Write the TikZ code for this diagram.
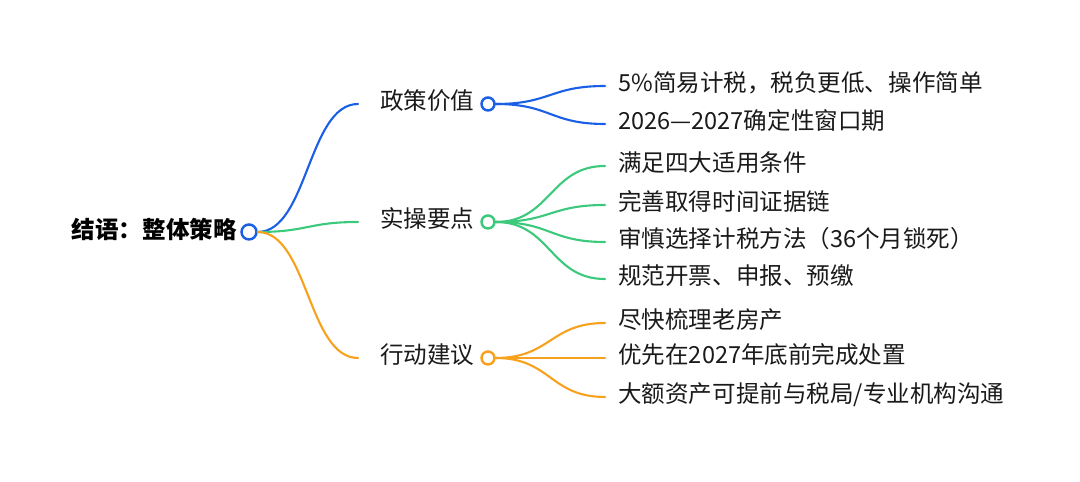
\documentclass[tikz,border=0pt]{standalone}
\usepackage{fontspec}
\setmainfont{Noto Sans CJK SC}
\usepackage{xcolor}
\usepackage{tikz}
\definecolor{mapblue}{HTML}{1A5FE6}
\definecolor{mapgreen}{HTML}{3CC97C}
\definecolor{maporange}{HTML}{F7A21E}
\definecolor{maptext}{HTML}{1A1A1A}

\begin{document}
\begin{tikzpicture}[x=0.02cm, y=-0.02cm,
      every node/.style={font=\fontsize{13.4}{16}\selectfont, text=maptext},
      rootlbl/.style={anchor=east, inner sep=0pt, text height=0.78em, text depth=0.1em,
                      font=\fontsize{13.4}{16}\selectfont\bfseries, text=black},
      lbl/.style={anchor=west, inner xsep=0.44cm, inner ysep=0pt,
                  text height=0.78em, text depth=0.1em},
      leaf/.style={anchor=west, inner xsep=0.26cm, inner ysep=0pt,
                   text height=0.78em, text depth=0.1em},
      rootdot/.style={circle, draw=mapblue, fill=white, line width=1.4pt,
                      minimum size=0.30cm, inner sep=0pt},
      dot/.style={circle, fill=white, line width=1.4pt,
                  minimum size=0.26cm, inner sep=0pt},
      link/.style={line width=1.2pt, line cap=round}
    ]
    \useasboundingbox (0,0) rectangle (1080,482);

    \node[rootlbl] (root) at (237,233) {结语：整体策略};
    \node[rootdot] (rdot) at (249,232) {};

    % main branches
    \node[lbl] (pol) at (358,104) {政策价值};
    \node[lbl] (ops) at (358,222) {实操要点};
    \node[lbl] (act) at (358,358) {行动建议};
    \draw[link, mapblue]   (rdot.east) .. controls +(50,0) and +(-50,0) .. (pol.west);
    \draw[link, mapgreen]  (rdot.east) .. controls +(50,0) and +(-50,0) .. (ops.west);
    \draw[link, maporange] (rdot.east) .. controls +(50,0) and +(-50,0) .. (act.west);
    \node[dot, draw=mapblue]   (pdot) at (488,104) {};
    \node[dot, draw=mapgreen]  (odot) at (488,222) {};
    \node[dot, draw=maporange] (adot) at (488,358) {};

    % policy value
    \node[leaf] (p1) at (605,86)  {5\%简易计税，税负更低、操作简单};
    \node[leaf] (p2) at (605,124) {2026—2027确定性窗口期};
    \draw[link, mapblue] (pdot.east) .. controls +(55,0) and +(-55,0) .. (p1.west);
    \draw[link, mapblue] (pdot.east) .. controls +(55,0) and +(-55,0) .. (p2.west);

    % practical points
    \node[leaf] (o1) at (605,166) {满足四大适用条件};
    \node[leaf] (o2) at (605,205) {完善取得时间证据链};
    \node[leaf] (o3) at (605,242) {审慎选择计税方法（36个月锁死）};
    \node[leaf] (o4) at (605,279) {规范开票、申报、预缴};
    \draw[link, mapgreen] (odot.east) .. controls +(55,0) and +(-55,0) .. (o1.west);
    \draw[link, mapgreen] (odot.east) .. controls +(55,0) and +(-55,0) .. (o2.west);
    \draw[link, mapgreen] (odot.east) .. controls +(55,0) and +(-55,0) .. (o3.west);
    \draw[link, mapgreen] (odot.east) .. controls +(55,0) and +(-55,0) .. (o4.west);

    % action advice
    \node[leaf] (a1) at (605,323) {尽快梳理老房产};
    \node[leaf] (a2) at (605,358) {优先在2027年底前完成处置};
    \node[leaf] (a3) at (605,397) {大额资产可提前与税局/专业机构沟通};
    \draw[link, maporange] (adot.east) .. controls +(55,0) and +(-55,0) .. (a1.west);
    \draw[link, maporange] (adot.east) .. controls +(55,0) and +(-55,0) .. (a2.west);
    \draw[link, maporange] (adot.east) .. controls +(55,0) and +(-55,0) .. (a3.west);
  \end{tikzpicture}
\end{document}
